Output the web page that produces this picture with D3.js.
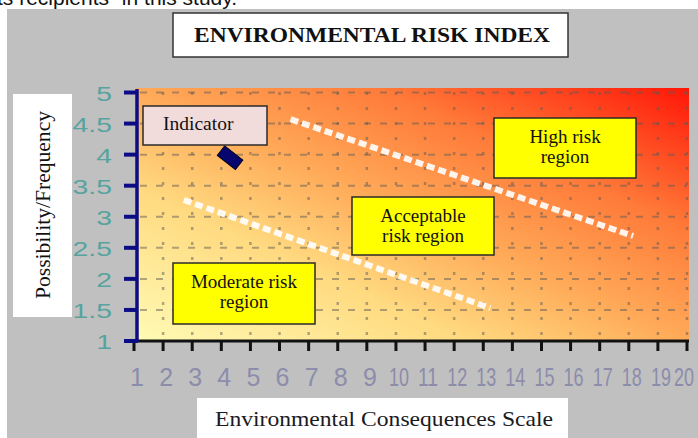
<!DOCTYPE html>
<html>
<head>
<meta charset="utf-8">
<script src="https://cdn.jsdelivr.net/npm/d3@7"></script>
<style>
  html, body { margin: 0; padding: 0; background: #fff; }
  svg { display: block; }
</style>
</head>
<body>
<svg id="chart" width="698" height="438"></svg>
<script>
// values
var xTicks = d3.range(1, 21);
var yTicks = [1, 1.5, 2, 2.5, 3, 3.5, 4, 4.5, 5];
var indicatorPoint = [{x: 4.3, y: 3.95}];
var upperBoundary = [[6.38, 4.57], [18.15, 2.69]];
var lowerBoundary = [[2.71, 3.27], [13.24, 1.53]];
var regionNames = [["High risk", "region"], ["Acceptable", "risk region"], ["Moderate risk", "region"]];

var svg = d3.select('#chart');
var serif = '"Liberation Serif", "Times New Roman", serif',
    sans = '"Liberation Sans", Arial, sans-serif';

// cut-off caption line at the very top
svg.append('text')
    .attr('x', -3).attr('y', 5)
    .style('font-family', sans).style('font-size', '21px').style('fill', '#111')
    .text('ts recipients\u201D in this study.');

// grey panel
svg.append('rect').attr('x', 7).attr('y', 9).attr('width', 691).attr('height', 429).attr('fill', '#c0c0c0');

var x = d3.scaleLinear().domain([1, 20]).range([134, 687]),
    y = d3.scaleLinear().domain([1, 5]).range([341, 92.5]);

var defs = svg.append('defs');
var grad = defs.append('linearGradient').attr('id', 'risk')
    .attr('x1', 0).attr('y1', 1).attr('x2', 1).attr('y2', 0);
[[0, '#fffbb4'], [0.3, '#ffda80'], [0.5, '#ffaa58'], [0.72, '#ff7a38'], [1, '#ff1608']].forEach(function(s) {
    grad.append('stop').attr('offset', s[0]).attr('stop-color', s[1]);
});

svg.append('rect')
    .attr('x', x(1) + 2).attr('y', 88)
    .attr('width', x(20) - x(1)).attr('height', y(1) - 88)
    .attr('fill', 'url(#risk)');

// dotted grid
var grid = svg.append('g').attr('stroke', 'rgba(95,90,85,0.5)');
grid.selectAll('.h').data(yTicks.filter(function(d) { return d > 1; }))
    .enter().append('line')
    .attr('x1', x(1) + 6).attr('x2', x(20))
    .attr('y1', function(d) { return y(d); }).attr('y2', function(d) { return y(d); })
    .attr('stroke-width', 2).attr('stroke-dasharray', '7,9');
grid.selectAll('.v').data(xTicks.filter(function(d) { return d > 1; }))
    .enter().append('line')
    .attr('x1', function(d) { return x(d); }).attr('x2', function(d) { return x(d); })
    .attr('y1', 92).attr('y2', y(1) - 3)
    .attr('stroke-width', 2.5).attr('stroke-dasharray', '3,12');

// boundaries between regions
var line = d3.line().x(function(d) { return x(d[0]); }).y(function(d) { return y(d[1]); });
[upperBoundary, lowerBoundary].forEach(function(b) {
    svg.append('path').attr('d', line(b))
        .attr('fill', 'none').attr('stroke', 'rgba(255,255,255,0.9)')
        .attr('stroke-width', 6).attr('stroke-dasharray', '8,4');
});

// axes
var xAxis = svg.append('g');
xAxis.append('line').attr('x1', x(1) - 1).attr('x2', x(20) + 2)
    .attr('y1', y(1)).attr('y2', y(1)).attr('stroke', '#111').attr('stroke-width', 3);
xAxis.selectAll('.tick').data(xTicks).enter().append('line')
    .attr('x1', function(d) { return x(d); }).attr('x2', function(d) { return x(d); })
    .attr('y1', y(1)).attr('y2', y(1) + 10)
    .attr('stroke', '#111').attr('stroke-width', 3);
xAxis.selectAll('.lab').data(xTicks).enter().append('text')
    .attr('x', function(d) { return x(d) + (d === 20 ? -3 : 3); })
    .attr('y', 386)
    .attr('text-anchor', 'middle')
    .attr('textLength', function(d) { return d >= 10 ? 20 : null; })
    .attr('lengthAdjust', 'spacingAndGlyphs')
    .style('font-family', sans).style('font-size', '25px').style('fill', '#8c8cab')
    .text(function(d) { return d; });

var yAxis = svg.append('g');
yAxis.append('line').attr('x1', 137).attr('x2', 137)
    .attr('y1', 89).attr('y2', y(1) + 1).attr('stroke', '#0c0c84').attr('stroke-width', 3.5);
yAxis.selectAll('.tick').data(yTicks).enter().append('line')
    .attr('x1', 124).attr('x2', 138)
    .attr('y1', function(d) { return y(d); }).attr('y2', function(d) { return y(d); })
    .attr('stroke', '#0c0c84').attr('stroke-width', 4);
yAxis.selectAll('.lab').data(yTicks).enter().append('text')
    .attr('transform', function(d) { return 'translate(112,' + (y(d) + 8) + ') scale(1.35,1)'; })
    .attr('text-anchor', 'end')
    .style('font-family', sans).style('font-size', '21px').style('fill', '#57a39e')
    .text(function(d) { return d; });

// indicator mark
svg.selectAll('.pt').data(indicatorPoint).enter().append('rect')
    .attr('x', -11.5).attr('y', -6).attr('width', 23).attr('height', 12)
    .attr('transform', function(d) { return 'translate(' + x(d.x) + ',' + y(d.y) + ') rotate(38)'; })
    .attr('fill', '#06066e').attr('stroke', '#000020').attr('stroke-width', 1);

// label boxes
function box(x0, y0, w, h, fill) {
    svg.append('rect').attr('x', x0).attr('y', y0).attr('width', w).attr('height', h)
        .attr('fill', fill).attr('stroke', '#2a2a2a').attr('stroke-width', 1.5);
}
function lines(cx, y0, arr, size) {
    arr.forEach(function(t, i) {
        svg.append('text').attr('x', cx).attr('y', y0 + i * 20)
            .attr('text-anchor', 'middle')
            .style('font-family', serif).style('font-size', size).style('fill', '#111')
            .text(t);
    });
}

box(143, 106, 124, 39, '#f2dcdb');
svg.append('text').attr('x', 163).attr('y', 130)
    .style('font-family', serif).style('font-size', '19.5px').style('fill', '#111').text('Indicator');

var regionBoxes = [[494, 118, 142, 60], [352, 197, 142, 58], [173, 263, 142, 61]];
regionBoxes.forEach(function(b, i) {
    box(b[0], b[1], b[2], b[3], '#ffff00');
    lines(b[0] + b[2] / 2, b[1] + 24.5, regionNames[i], '19px');
});

// title
svg.append('rect').attr('x', 173).attr('y', 13).attr('width', 395).attr('height', 44)
    .attr('fill', '#fff').attr('stroke', '#333').attr('stroke-width', 1.5);
svg.append('text').attr('x', 372).attr('y', 42).attr('text-anchor', 'middle')
    .attr('textLength', 356).attr('lengthAdjust', 'spacingAndGlyphs')
    .style('font-family', serif).style('font-size', '22px').style('font-weight', 'bold').style('fill', '#111')
    .text('ENVIRONMENTAL RISK INDEX');

// axis titles
svg.append('rect').attr('x', 13).attr('y', 94).attr('width', 59).attr('height', 223).attr('fill', '#fff');
svg.append('text').attr('transform', 'translate(50,205) rotate(-90)')
    .attr('text-anchor', 'middle')
    .attr('textLength', 188).attr('lengthAdjust', 'spacingAndGlyphs')
    .style('font-family', serif).style('font-size', '21px').style('fill', '#111')
    .text('Possibility/Frequency');

svg.append('rect').attr('x', 197).attr('y', 398).attr('width', 371).attr('height', 40).attr('fill', '#fff');
svg.append('text').attr('x', 384).attr('y', 426).attr('text-anchor', 'middle')
    .attr('textLength', 338).attr('lengthAdjust', 'spacingAndGlyphs')
    .style('font-family', serif).style('font-size', '22px').style('fill', '#1a1a22')
    .text('Environmental Consequences Scale');
</script>
</body>
</html>
